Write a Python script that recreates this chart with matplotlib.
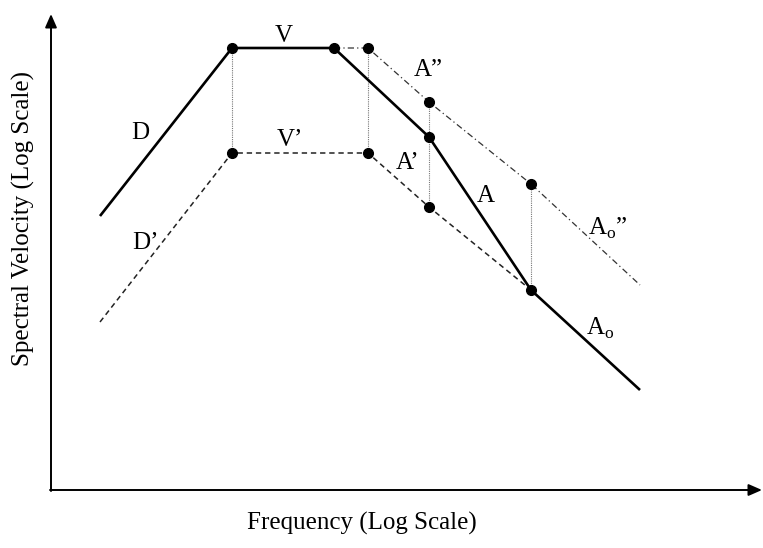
import matplotlib
matplotlib.use("Agg")
import matplotlib.pyplot as plt

# Schematic spectrum in log-log units (arbitrary, y increases upward)
# Original design spectrum: D - V - A - Ao
solid_f = [100, 232, 334, 429, 531, 640]
solid_v = [332, 500, 500, 411, 258, 158]

# Reduced spectrum: D' - V' - A'
dashed_f = [100, 232, 368, 429, 531]
dashed_v = [226, 395, 395, 341, 258]

# Amplified branch: A'' - Ao''
dashdot_f = [334, 368, 429, 531, 640]
dashdot_v = [500, 500, 446, 364, 263]

# Vertical links between the spectra at the corner frequencies
link_f = [232, 368, 429, 531]
link_lo = [395, 395, 341, 258]
link_hi = [500, 500, 446, 364]

# Corner points
dot_f = [232, 334, 368, 232, 368, 429, 429, 429, 531, 531]
dot_v = [500, 500, 500, 395, 395, 446, 411, 341, 364, 258]

# Segment labels
label_text = ["D", "V", "A\u201d", "V\u2019", "A\u2019", "A", "D\u2019",
              "A$_{\\mathregular{o}}$\u201d", "A$_{\\mathregular{o}}$"]
label_f = [140, 284, 428, 290, 408, 486, 145, 608, 600]
label_v = [415, 512, 478, 408, 385, 352, 305, 320, 220]

plt.rcParams["font.family"] = ["Liberation Serif", "DejaVu Serif"]
plt.rcParams["mathtext.fontset"] = "custom"
plt.rcParams["mathtext.rm"] = "Liberation Serif"

fig = plt.figure(figsize=(7.63, 5.48), dpi=100)
ax = fig.add_axes([0, 0, 1, 1])
ax.set_xlim(0, 763)
ax.set_ylim(0, 548)
ax.axis("off")

# axes with arrow heads
x0, y0 = 51, 58
ax.annotate("", xy=(x0, 534), xytext=(x0, y0 - 1),
            arrowprops=dict(arrowstyle="-|>,head_length=0.8,head_width=0.35",
                            lw=1.4, color="black", shrinkA=0, shrinkB=0))
ax.annotate("", xy=(762, y0), xytext=(x0 - 1, y0),
            arrowprops=dict(arrowstyle="-|>,head_length=0.8,head_width=0.35",
                            lw=1.4, color="black", shrinkA=0, shrinkB=0))

for f, lo, hi in zip(link_f, link_lo, link_hi):
    ax.plot([f, f], [lo, hi], color="#777777", lw=0.8, ls=(0, (1, 1)))

ax.plot(dashed_f, dashed_v, color="#222222", lw=1.1, ls=(0, (3.5, 2.5)))
ax.plot(dashdot_f, dashdot_v, color="#333333", lw=0.9, ls=(0, (5, 2.5, 1, 2.5)))
ax.plot(solid_f, solid_v, color="black", lw=1.9, solid_capstyle="butt")
ax.plot(dot_f, dot_v, "o", color="black", ms=7, zorder=5)

for t, f, v in zip(label_text, label_f, label_v):
    ax.text(f, v, t, fontsize=18, ha="center", va="center")

ax.text(362, 25, "Frequency (Log Scale)", fontsize=18, ha="center", va="center")
ax.text(23, 330, "Spectral Velocity (Log Scale)", fontsize=18,
        ha="center", va="center", rotation=90)

fig.savefig("out.png", dpi=100)
